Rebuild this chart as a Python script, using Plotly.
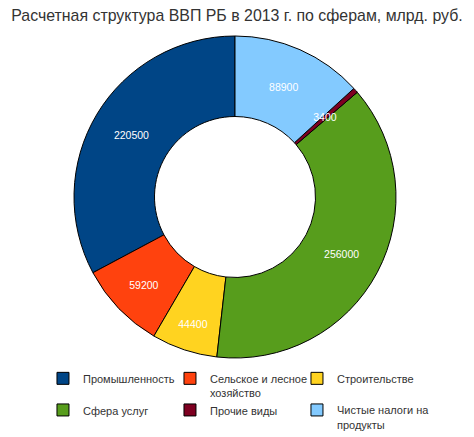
import plotly.graph_objects as go

title = "Расчетная структура ВВП РБ в 2013 г. по сферам, млрд. руб."
labels = ["Промышленность", "Сельское и лесное<br>хозяйство", "Строительстве",
          "Сфера услуг", "Прочие виды", "Чистые налоги на<br>продукты"]
values = [220500, 59200, 44400, 256000, 3400, 88900]
colors = ["#004586", "#ff420e", "#ffd320", "#579d1c", "#7e0021", "#83caff"]
thin = "Прочие виды"

W, H = 474, 437
OFF = 8  # page body margin of the html
cx, cy, R = 235 - OFF, 197 - OFF, 161


def domain(r):
    return dict(x=[(cx - r) / W, (cx + r) / W], y=[1 - (cy + r) / H, 1 - (cy - r) / H])


rot = -360.0 * values[0] / sum(values)
common = dict(labels=labels, values=values, sort=False,
              direction="counterclockwise", rotation=rot, hole=0.5)
tfont = dict(color="white", size=10.5, family="Liberation Sans")

fig = go.Figure()
fig.add_trace(go.Pie(
    **common,
    marker=dict(colors=colors, line=dict(color="#000000", width=1)),
    textinfo="none", domain=domain(R),
))
# text-only overlay so labels sit on top of all slices
fig.add_trace(go.Pie(
    **common,
    marker=dict(colors=["rgba(0,0,0,0)"] * len(values), line=dict(width=0)),
    texttemplate=["" if l == thin else "%{value:.0f}" for l in labels],
    textposition="inside", insidetextorientation="horizontal",
    textfont=tfont, showlegend=False, hoverinfo="skip", domain=domain(R),
))
# label of the very thin slice, placed at mid-ring
fig.add_trace(go.Pie(
    **common,
    marker=dict(colors=["rgba(0,0,0,0)"] * len(values), line=dict(width=0)),
    texttemplate=["%{value:.0f}" if l == thin else "" for l in labels],
    textposition="inside", insidetextorientation="horizontal",
    textfont=tfont, showlegend=False, hoverinfo="skip", domain=domain(122),
))

fig.update_layout(
    width=W, height=H,
    margin=dict(l=0, r=0, t=0, b=0, autoexpand=False),
    paper_bgcolor="white",
    font=dict(family="Liberation Sans", color="#333333"),
    title=dict(text=title, x=(237 - OFF) / W, xanchor="center",
               y=1 - 7.5 / H, yanchor="middle",
               font=dict(size=15.9, color="#333333", family="Liberation Sans")),
    uniformtext=dict(minsize=10.5, mode="show"),
    legend=dict(orientation="h", x=0.0738, xanchor="left", y=1 - 351.5 / H, yanchor="top",
                entrywidth=82, entrywidthmode="pixels", itemwidth=30,
                valign="top", tracegroupgap=0,
                # blank title only widens the legend box so long entries are not clipped
                title=dict(text="\u00a0" * 380, side="top", font=dict(size=4)),
                font=dict(size=11, color="#333333", family="Liberation Sans")),
)

fig.write_html("out.html")
